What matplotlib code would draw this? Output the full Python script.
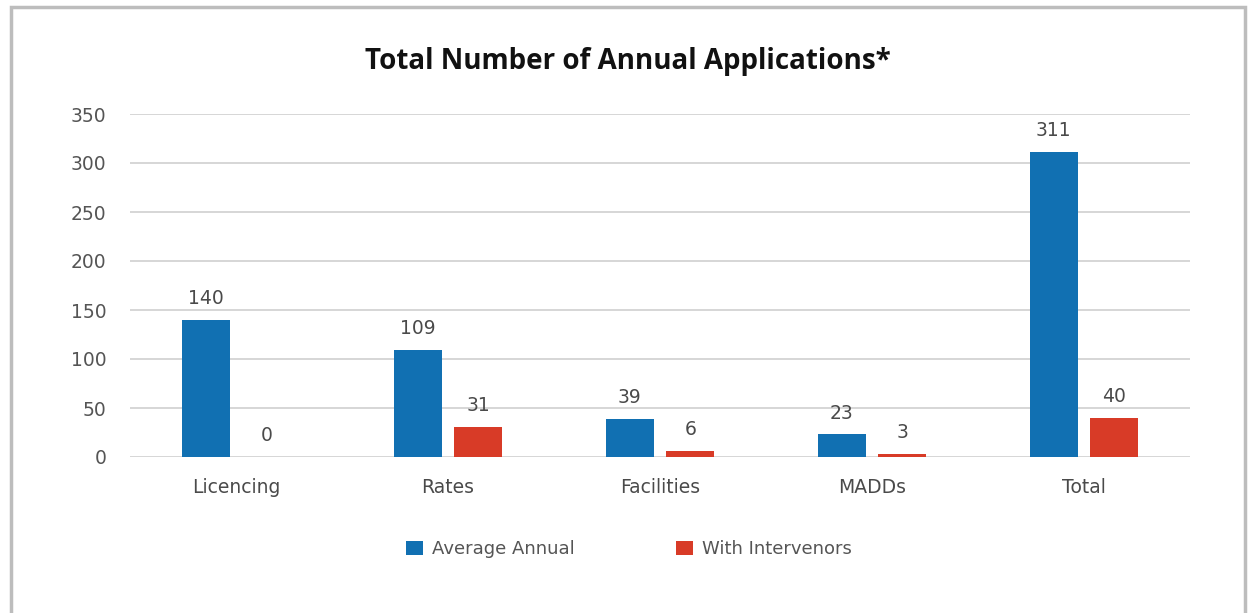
import matplotlib
matplotlib.use("Agg")
import matplotlib.pyplot as plt
import numpy as np
from matplotlib.patches import Rectangle

categories = ["Licencing", "Rates", "Facilities", "MADDs", "Total"]
average_annual = [140, 109, 39, 23, 311]
with_intervenors = [0, 31, 6, 3, 40]
y_ticks = [0, 50, 100, 150, 200, 250, 300, 350]

blue = "#1170b2"
red = "#d83b27"
grey_text = "#555555"

plt.rcParams['font.family'] = ['DejaVu Sans']

fig = plt.figure(figsize=(12.48, 6.13), dpi=100)
ax = fig.add_axes([130/1248, 1-457/613, 1060/1248, 343/613])

x = np.arange(len(categories))
w = 0.226
off = 0.143
b1 = ax.bar(x - off, average_annual, width=w, color=blue, label="Average Annual", zorder=3)
b2 = ax.bar(x + off, with_intervenors, width=w, color=red, label="With Intervenors", zorder=3)

# value labels over each bar
for rect, v in zip(list(b1) + list(b2), average_annual + with_intervenors):
    ax.text(rect.get_x() + rect.get_width()/2, v + 12, str(v), ha="center", va="bottom",
            fontsize=13.5, color="#4a4a4a")

ax.set_xlim(-0.5, len(categories) - 0.5)
ax.set_ylim(0, 350)
ax.set_yticks(y_ticks)
ax.set_yticklabels([str(t) for t in y_ticks], fontsize=13.5, color=grey_text)
ax.set_xticks(x)
ax.set_xticklabels(categories, fontsize=13.5, color="#4a4a4a")
ax.tick_params(axis="y", length=0, pad=17)
ax.tick_params(axis="x", length=0, pad=15)
ax.grid(axis="y", color="#cfcfcf", linewidth=1.2, zorder=0)
for s in ax.spines.values():
    s.set_visible(False)

fig.text(628/1248, 1-69/613, "Total Number of Annual Applications*", ha="center", va="baseline",
         fontsize=20, fontweight="bold", color="#111111", family="Open Sans")

leg = fig.legend(handles=[b1, b2], loc="center", bbox_to_anchor=(629/1248, 1-549/613),
                 ncol=2, frameon=False, fontsize=13, handlelength=0.95, handleheight=0.85,
                 columnspacing=5.6, handletextpad=0.5)
for t in leg.get_texts():
    t.set_color(grey_text)

fig.patches.append(Rectangle((11/1248, -0.05), (1245-11)/1248, 1.05 - 7/613,
                             transform=fig.transFigure, fill=False,
                             edgecolor="#bdbdbd", linewidth=2.5))

plt.savefig("out.png", dpi=100)
